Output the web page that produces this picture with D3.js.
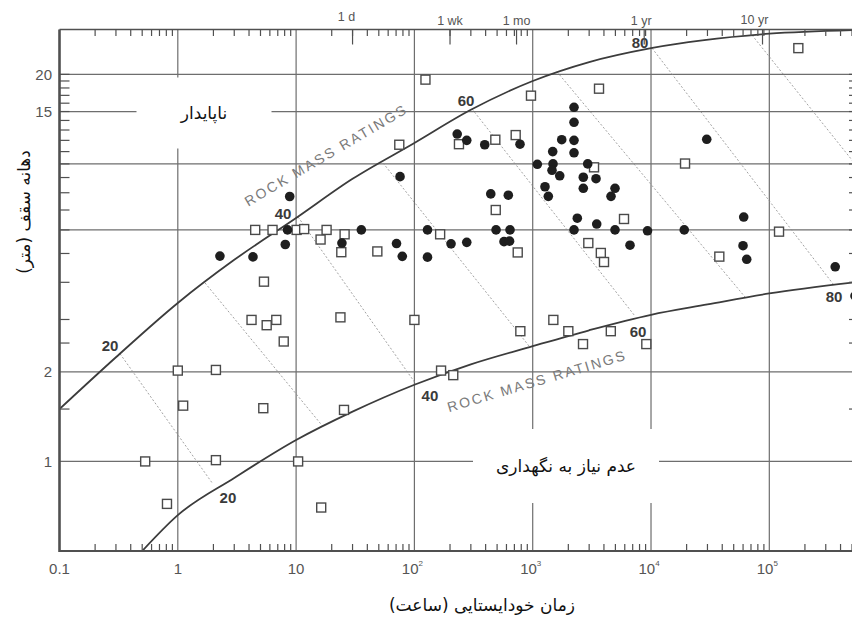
<!DOCTYPE html>
<html>
<head>
<meta charset="utf-8">
<script src="https://cdn.jsdelivr.net/npm/d3@7"></script>
<style>
  body { margin: 0; background: #fff; }
  svg { display: block; }
</style>
</head>
<body>
<svg id="chart" width="852" height="622"></svg>
<script>
// Stand-up time (hours) and roof span (m): case records
const solidHours = [2.27, 4.32, 8.1, 8.46, 8.83, 24.4, 35.6, 70.6, 75.6, 79, 129, 129, 204, 230, 277, 277, 393, 442, 490, 572, 622, 637, 643, 781, 1094, 1270, 1355, 1476, 1485, 1456, 1692, 1759, 2234, 2234, 2234, 2234, 2234, 2382, 2677, 2677, 2917, 3429, 3476, 4591, 4963, 4963, 6645, 9340, 19090, 29580, 60760, 59940, 64420, 360600, 530000];
const solidSpan  = [4.9, 4.87, 5.36, 6.0, 7.77, 5.42, 6.0, 5.4, 9.06, 4.89, 6.0, 4.86, 5.39, 12.6, 12.0, 5.45, 11.6, 7.93, 6.0, 5.48, 7.85, 5.5, 6.0, 11.65, 9.97, 8.38, 7.78, 11.0, 10.0, 9.52, 9.12, 12.06, 15.5, 13.8, 12.0, 10.9, 6.0, 6.57, 9.02, 8.28, 10.0, 8.92, 6.28, 7.78, 8.28, 6.0, 5.33, 5.96, 6.0, 12.1, 6.63, 5.31, 4.78, 4.51, 3.6];

const openHours = [0.53, 0.81, 1.0, 1.11, 2.1, 2.1, 4.2, 4.51, 5.28, 5.35, 5.64, 6.32, 6.8, 7.86, 10.1, 10.4, 11.7, 16.1, 16.3, 18.1, 23.7, 24.1, 25.4, 25.7, 48.6, 74.5, 100, 124, 165, 168, 213, 238, 483, 487, 718, 747, 786, 967, 1494, 2000, 2662, 2951, 3298, 3635, 3765, 4006, 4573, 5912, 9126, 19390, 37790, 120800, 175900];
const openSpan  = [1.0, 0.72, 2.02, 1.54, 2.03, 1.01, 2.99, 6.0, 1.51, 4.02, 2.87, 6.0, 2.99, 2.53, 6.0, 1.0, 6.04, 5.57, 0.7, 6.0, 3.05, 5.05, 1.49, 5.8, 5.08, 11.6, 2.99, 19.2, 5.8, 2.02, 1.95, 11.65, 12.06, 7.0, 12.5, 5.04, 2.74, 16.96, 2.99, 2.74, 2.48, 5.42, 9.74, 17.9, 5.02, 4.68, 2.74, 6.53, 2.48, 10.03, 4.88, 5.92, 24.5];

// Boundary curves of the rock mass rating band
const upperHours = [0.1, 0.3, 1, 3, 10, 30, 100, 300, 1000, 3000, 10000, 100000, 530000];
const upperSpan  = [1.5, 2.24, 3.41, 4.76, 6.58, 8.91, 11.76, 15.2, 19.0, 22.0, 24.5, 27.4, 28.2];
const lowerHours = [0.5, 1, 3, 10, 30, 100, 300, 1000, 3000, 10000, 30000, 100000, 530000];
const lowerSpan  = [0.5, 0.66, 0.88, 1.18, 1.47, 1.81, 2.12, 2.44, 2.76, 3.11, 3.37, 3.67, 4.0];

// Constant-RMR lines between the two boundaries
const rmrValues     = [20, 30, 40, 50, 60, 70, 80, 90];
const rmrStartHours = [0.325, 1.7, 10.4, 54.3, 307, 1605, 10200, 71400];
const rmrStartSpan  = [2.3, 3.98, 6.63, 10.07, 15.3, 20.4, 24.5, 27.1];
const rmrEndHours   = [1.98, 16.6, 103, 949, 7322, 62300, 345600, 1270000];
const rmrEndSpan    = [0.84, 1.32, 1.82, 2.42, 3.08, 3.57, 3.95, 6.48];

// Axis ticks and labels
const xLabelValues = [0.1, 1, 10, 100, 1000, 10000, 100000];
const xLabelBase   = ["0.1", "1", "10", "10", "10", "10", "10"];
const xLabelExp    = ["", "", "", "2", "3", "4", "5"];
const xGridValues  = [1, 10, 100, 1000, 10000, 100000];
const yLabelValues = [1, 2, 15, 20];
const yLabelText   = ["1", "2", "15", "20"];
const yGridValues  = [1, 2, 6, 10, 15, 20];
const yMinorValues = [1.5, 2.5, 3, 4, 5, 6, 7, 8, 9, 10, 11, 12, 13, 14, 15, 16, 17, 18, 19, 20];
const timeLabels   = ["1 d", "1 wk", "1 mo", "1 yr", "10 yr"];
const timeHours    = [30, 200, 730, 8760, 87600];

const svg = d3.select("#chart");
const L = 59.5, R = 855, T = 29.5, B = 551;
const x = d3.scaleLog().domain([0.1, 530000]).range([L, R]);
const y = d3.scaleLog().domain([0.5, 28.3]).range([B, T]);

const latin = "'Liberation Sans', Arial, sans-serif";
const farsi = "'DejaVu Sans', 'Noto Sans', sans-serif";

svg.append("defs").append("clipPath").attr("id", "plotClip")
  .append("rect").attr("x", L).attr("y", T).attr("width", R - L).attr("height", B - T);

// grid
const grid = svg.append("g").attr("stroke", "#6e6e6e").attr("stroke-width", 1.2);
grid.selectAll("line.v").data(xGridValues).join("line")
  .attr("x1", d => x(d)).attr("x2", d => x(d)).attr("y1", T).attr("y2", B);
grid.selectAll("line.h").data(yGridValues).join("line")
  .attr("x1", L).attr("x2", R).attr("y1", d => y(d)).attr("y2", d => y(d));

// region captions on white panels
const panels = [
  { text: "ناپایدار", cx: 204, cy: 113, w: 135, h: 71 },
  { text: "عدم نیاز به نگهداری", cx: 566, cy: 466, w: 186, h: 74 }
];
svg.selectAll("rect.panel").data(panels).join("rect")
  .attr("x", d => d.cx - d.w / 2).attr("y", d => d.cy - d.h / 2)
  .attr("width", d => d.w).attr("height", d => d.h).attr("fill", "#fff");
svg.selectAll("text.panel").data(panels).join("text")
  .attr("x", d => d.cx).attr("y", d => d.cy)
  .attr("text-anchor", "middle").attr("dominant-baseline", "central")
  .attr("font-family", farsi).attr("font-size", 17).attr("fill", "#111")
  .attr("direction", "rtl").attr("unicode-bidi", "plaintext")
  .text(d => d.text);

const plotG = svg.append("g").attr("clip-path", "url(#plotClip)");

// constant-RMR dotted lines
plotG.selectAll("line.rmr").data(rmrValues).join("line")
  .attr("x1", (d, i) => x(rmrStartHours[i])).attr("y1", (d, i) => y(rmrStartSpan[i]))
  .attr("x2", (d, i) => x(rmrEndHours[i])).attr("y2", (d, i) => y(rmrEndSpan[i]))
  .attr("stroke", "#8a8a8a").attr("stroke-width", 0.8).attr("stroke-dasharray", "2,2");

// boundary curves
const curve = d3.line().x(d => x(d[0])).y(d => y(d[1])).curve(d3.curveMonotoneX);
[[upperHours, upperSpan], [lowerHours, lowerSpan]].forEach(([hs, ss]) => {
  plotG.append("path").datum(hs.map((h, i) => [h, ss[i]]))
    .attr("d", curve).attr("fill", "none").attr("stroke", "#3c3c3c").attr("stroke-width", 1.8);
});

// data markers
svg.append("g").selectAll("rect").data(openHours).join("rect")
  .attr("x", (d, i) => x(d) - 4.5).attr("y", (d, i) => y(openSpan[i]) - 4.5)
  .attr("width", 9).attr("height", 9)
  .attr("fill", "#fff").attr("stroke", "#4a4a4a").attr("stroke-width", 1.4);
svg.append("g").selectAll("circle").data(solidHours).join("circle")
  .attr("cx", d => x(d)).attr("cy", (d, i) => y(solidSpan[i])).attr("r", 4.8)
  .attr("fill", "#1e1e1e");

// RMR value labels at the ends of the dotted lines
const rmrLabelIdx = [0, 2, 4, 6];
const startOff = [[-10, -8], [-15, -4], [-6, -8], [-12, -6]];
const endOff   = [[15, 14], [14, 11], [3, 15], [1, 13]];
const numStyle = s => s.attr("text-anchor", "middle").attr("dominant-baseline", "central")
  .attr("font-family", latin).attr("font-weight", "bold").attr("font-size", 15).attr("fill", "#3a3a3a");
svg.append("g").selectAll("text").data(rmrLabelIdx).join("text")
  .attr("x", (d, k) => x(rmrStartHours[d]) + startOff[k][0])
  .attr("y", (d, k) => y(rmrStartSpan[d]) + startOff[k][1])
  .text(d => rmrValues[d]).call(numStyle);
svg.append("g").selectAll("text").data(rmrLabelIdx).join("text")
  .attr("x", (d, k) => x(rmrEndHours[d]) + endOff[k][0])
  .attr("y", (d, k) => y(rmrEndSpan[d]) + endOff[k][1])
  .text(d => rmrValues[d]).call(numStyle);

// curve captions
[[326, 155, -30.5], [537, 381, -16.5]].forEach(([cx, cy, a]) => {
  svg.append("text").attr("transform", `translate(${cx},${cy}) rotate(${a})`)
    .attr("text-anchor", "middle").attr("dominant-baseline", "central")
    .attr("font-family", latin).attr("font-size", 14).attr("letter-spacing", 2.2)
    .attr("fill", "#7a7a7a").text("ROCK MASS RATINGS");
});

// frame
const frame = svg.append("g").attr("stroke", "#505050").attr("fill", "none");
frame.append("line").attr("x1", L).attr("x2", L).attr("y1", T).attr("y2", B + 1).attr("stroke-width", 2.6);
frame.append("line").attr("x1", L).attr("x2", R).attr("y1", B).attr("y2", B).attr("stroke-width", 2.2);
frame.append("line").attr("x1", L).attr("x2", R).attr("y1", T).attr("y2", T).attr("stroke-width", 1.6);
frame.append("line").attr("x1", R).attr("x2", R).attr("y1", T).attr("y2", B).attr("stroke-width", 2);

// minor ticks
const xMinor = x.ticks().filter(v => Math.abs(Math.log10(v) - Math.round(Math.log10(v))) > 1e-6);
const ticks = svg.append("g").attr("stroke", "#505050").attr("stroke-width", 1.2);
ticks.selectAll("line.b").data(xMinor).join("line")
  .attr("x1", d => x(d)).attr("x2", d => x(d)).attr("y1", B).attr("y2", B - 7);
ticks.selectAll("line.t").data(xMinor).join("line")
  .attr("x1", d => x(d)).attr("x2", d => x(d)).attr("y1", T).attr("y2", T + 6.5);
ticks.selectAll("line.tl").data(timeHours).join("line")
  .attr("x1", d => x(d)).attr("x2", d => x(d)).attr("y1", T).attr("y2", T + 15);
ticks.selectAll("line.l").data(yMinorValues).join("line")
  .attr("x1", L).attr("x2", L + 10).attr("y1", d => y(d)).attr("y2", d => y(d));
ticks.selectAll("line.r").data(yMinorValues).join("line")
  .attr("x1", R).attr("x2", R - 6).attr("y1", d => y(d)).attr("y2", d => y(d));

// axis labels
const xl = svg.append("g").attr("font-family", latin).attr("font-size", 15).attr("fill", "#555")
  .attr("text-anchor", "middle");
xl.selectAll("text").data(xLabelValues).join("text")
  .attr("x", (d, i) => x(d) + (xLabelExp[i] ? -2 : 0)).attr("y", 574)
  .each(function (d, i) {
    const t = d3.select(this);
    t.append("tspan").text(xLabelBase[i]);
    if (xLabelExp[i]) t.append("tspan").attr("font-size", 8).attr("dy", -8).text(xLabelExp[i]);
  });

svg.append("g").attr("font-family", latin).attr("font-size", 15).attr("fill", "#555")
  .attr("text-anchor", "end").attr("dominant-baseline", "central")
  .selectAll("text").data(yLabelValues).join("text")
  .attr("x", 52).attr("y", d => y(d)).text((d, i) => yLabelText[i]);

const timeDx = [-6, 0, 0, -3, -8];
const timeBase = [21, 25, 25, 25, 24];
svg.append("g").attr("font-family", latin).attr("font-size", 12.5).attr("fill", "#555")
  .attr("text-anchor", "middle")
  .selectAll("text").data(timeHours).join("text")
  .attr("x", (d, i) => x(d) + timeDx[i]).attr("y", (d, i) => timeBase[i])
  .text((d, i) => timeLabels[i]);

// axis titles
svg.append("text").attr("transform", "translate(24,212) rotate(-90)")
  .attr("text-anchor", "middle").attr("dominant-baseline", "central")
  .attr("font-family", farsi).attr("font-size", 17).attr("fill", "#111")
  .attr("direction", "rtl").text("دهانه سقف (متر)");
svg.append("text").attr("x", 482).attr("y", 605)
  .attr("text-anchor", "middle").attr("dominant-baseline", "central")
  .attr("font-family", farsi).attr("font-size", 17).attr("fill", "#111")
  .attr("direction", "rtl").text("زمان خودایستایی (ساعت)");
</script>
</body>
</html>
